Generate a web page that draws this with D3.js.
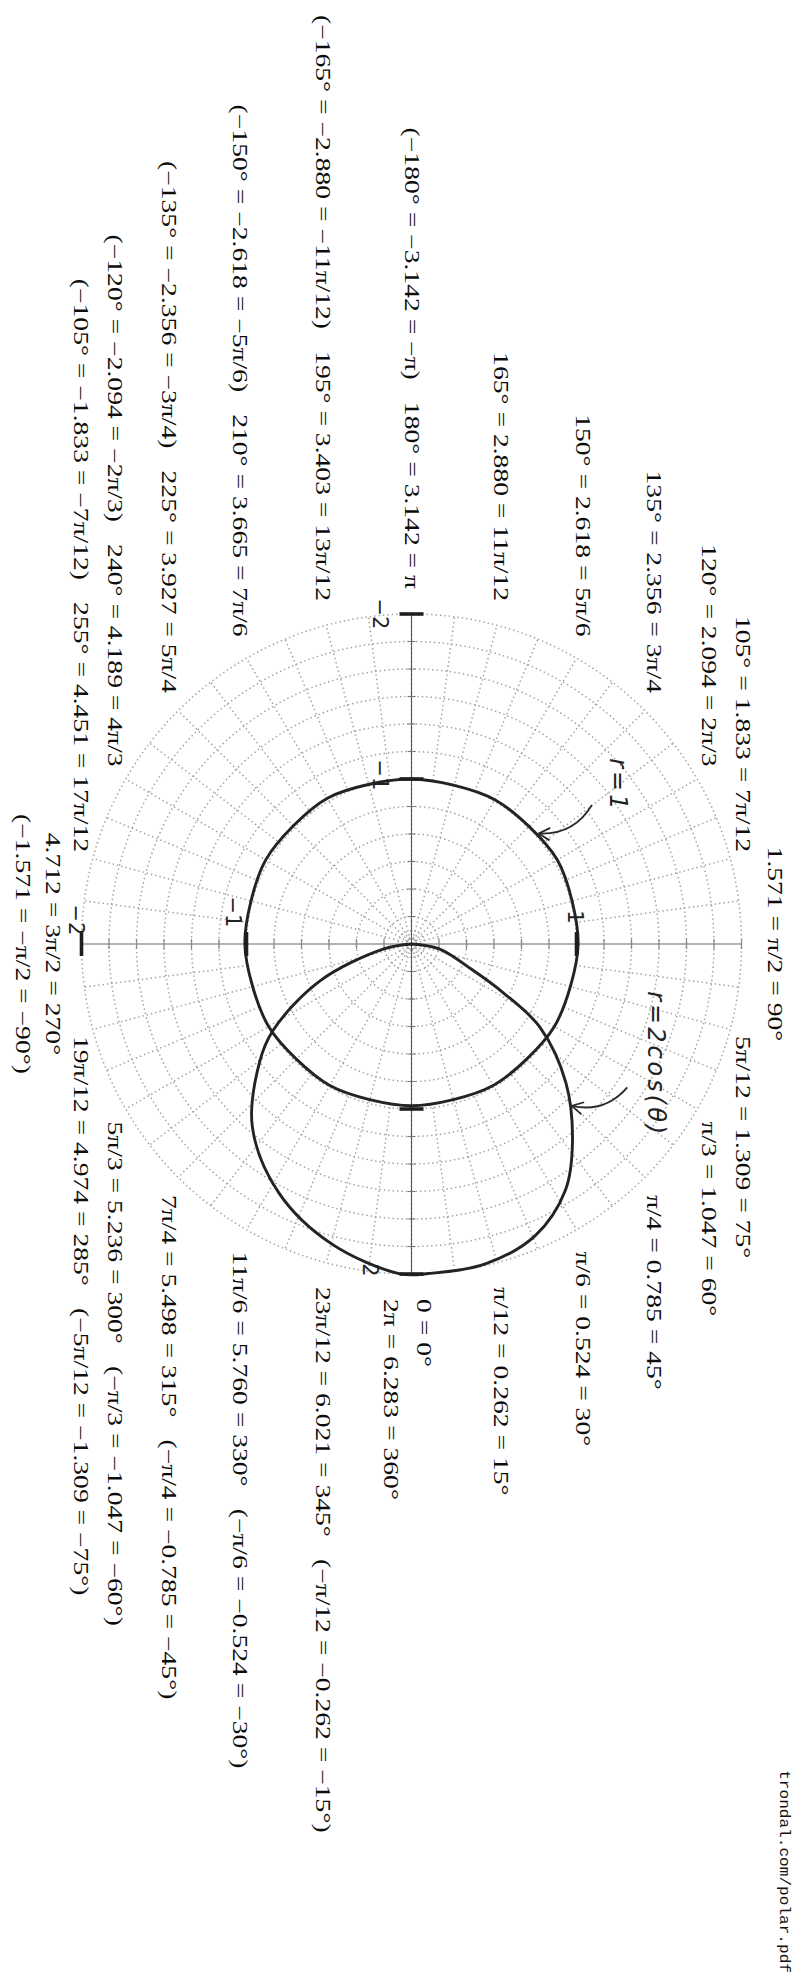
<!DOCTYPE html>
<html>
<head>
<meta charset="utf-8">
<script src="https://cdn.jsdelivr.net/npm/d3@7/dist/d3.min.js"></script>
<style>
  body { margin: 0; background: #fff; }
  .ring, .spoke { fill: none; stroke: #a0a0a0; stroke-width: 1.5; stroke-dasharray: 1.4 3; }
  .pen { fill: none; stroke: #232323; stroke-width: 2.9; stroke-linejoin: round; stroke-linecap: round; }
  .lbl { font-family: "Liberation Serif", serif; font-size: 20px; fill: #0d0d0d; }
  .hand { font-family: "DejaVu Sans", sans-serif; fill: #222; }
  .url { font-family: "Liberation Mono", monospace; font-size: 14px; fill: #111; }
</style>
</head>
<body>
<div id="chart"></div>
<script>
var width = 803, height = 1976;

// the sheet was printed landscape and is shown turned a quarter clockwise,
// so everything is drawn in sheet coordinates inside a rotated group
var centre = {x: 944, y: 391.5};

var ringValues = d3.range(1, 13).map(function(i) { return i / 6; });   // grid circles every 1/6
var spokeAngles = d3.range(0, 360, 15);
var outerSpokeAngles = d3.range(7.5, 360, 15);                          // extra spokes in the outer band

var labelAngles = [0, 15, 30, 45, 60, 75, 90, 105, 120, 135, 150, 165,
                   180, 195, 210, 225, 240, 255, 270, 285, 300, 315, 330, 345];
var labelMain = ["0 = 0°", "π/12 = 0.262 = 15°", "π/6 = 0.524 = 30°", "π/4 = 0.785 = 45°",
  "π/3 = 1.047 = 60°", "5π/12 = 1.309 = 75°", "1.571 = π/2 = 90°", "105° = 1.833 = 7π/12",
  "120° = 2.094 = 2π/3", "135° = 2.356 = 3π/4", "150° = 2.618 = 5π/6", "165° = 2.880 = 11π/12",
  "180° = 3.142 = π", "195° = 3.403 = 13π/12", "210° = 3.665 = 7π/6", "225° = 3.927 = 5π/4",
  "240° = 4.189 = 4π/3", "255° = 4.451 = 17π/12", "4.712 = 3π/2 = 270°", "19π/12 = 4.974 = 285°",
  "5π/3 = 5.236 = 300°", "7π/4 = 5.498 = 315°", "11π/6 = 5.760 = 330°", "23π/12 = 6.021 = 345°"];
var labelAlt = ["2π = 6.283 = 360°", "", "", "", "", "", "", "", "", "", "", "",
  "(−180° = −3.142 = −π)", "(−165° = −2.880 = −11π/12)", "(−150° = −2.618 = −5π/6)",
  "(−135° = −2.356 = −3π/4)", "(−120° = −2.094 = −2π/3)", "(−105° = −1.833 = −7π/12)",
  "(−1.571 = −π/2 = −90°)", "(−5π/12 = −1.309 = −75°)", "(−π/3 = −1.047 = −60°)",
  "(−π/4 = −0.785 = −45°)", "(−π/6 = −0.524 = −30°)", "(−π/12 = −0.262 = −15°)"];

// hand drawn r = 1
var unitTheta = [0, 30, 60, 90, 120, 150, 180, 210, 240, 270, 300, 330];
var unitR     = [0.98, 0.99, 1.0, 1.01, 1.02, 1.01, 1.0, 1.02, 1.02, 1.01, 1.0, 0.99];

// hand drawn r = 2cos(theta), from the pole round and back
var cosTheta = [90, 80, 67, 62, 57, 48, 39, 32, 23, 13, 3, -2, -15, -28, -41, -52, -58, -68, -80, -90];
var cosR     = [0, 0.17, 0.4, 0.63, 0.93, 1.26, 1.55, 1.76, 1.92, 1.99, 2.0, 2.0, 1.88, 1.71, 1.47, 1.17, 0.99, 0.6, 0.17, 0];

// pen marks on the axes and the numbers written by them
var markAngle = [180, 180, 0, 0, 270, 270, 90];
var markR     = [2, 1, 2, 1, 1, 2, 1];
var handText  = ["−2", "−1", "2", "", "−1", "−2", "1"];

var svg = d3.select("#chart").append("svg")
    .attr("width", width)
    .attr("height", height);

var page = svg.append("g")
    .attr("transform", "translate(" + width + ",0) rotate(90)");

var g = page.append("g")
    .attr("transform", "translate(" + centre.x + "," + centre.y + ")");

var r = d3.scaleLinear().domain([0, 2]).range([0, 330]);
var rad = d3.scaleLinear().domain([0, 180]).range([0, Math.PI]);

function px(a, v) { return r(v) * Math.cos(rad(a)); }
function py(a, v) { return -r(v) * Math.sin(rad(a)); }

// grid
g.selectAll(".ring")
    .data(ringValues)
  .join("circle")
    .attr("class", "ring")
    .attr("r", function(d) { return r(d); });

g.selectAll(".ring-inner")
    .data([0.04, 0.08])
  .join("circle")
    .attr("class", "ring")
    .attr("r", function(d) { return r(d); });

g.selectAll(".spoke")
    .data(spokeAngles)
  .join("line")
    .attr("class", "spoke")
    .attr("x1", 0).attr("y1", 0)
    .attr("x2", function(d) { return px(d, 2); })
    .attr("y2", function(d) { return py(d, 2); });

g.selectAll(".spoke-outer")
    .data(outerSpokeAngles)
  .join("line")
    .attr("class", "spoke")
    .attr("x1", function(d) { return px(d, 1); })
    .attr("y1", function(d) { return py(d, 1); })
    .attr("x2", function(d) { return px(d, 2); })
    .attr("y2", function(d) { return py(d, 2); });

// axes
g.append("line")
    .attr("x1", px(180, 2)).attr("x2", px(0, 2))
    .attr("stroke", "#555").attr("stroke-width", 1.1);
g.append("line")
    .attr("y1", py(90, 2)).attr("y2", py(270, 2))
    .attr("stroke", "#b4b4b4").attr("stroke-width", 2);

var tickVals = ringValues.concat(ringValues.map(function(d) { return -d; }));
g.selectAll(".tick-h")
    .data(tickVals)
  .join("line")
    .attr("x1", function(d) { return r(d); }).attr("x2", function(d) { return r(d); })
    .attr("y1", -4).attr("y2", 4)
    .attr("stroke", "#777").attr("stroke-width", 1);
g.selectAll(".tick-v")
    .data(tickVals)
  .join("line")
    .attr("y1", function(d) { return r(d); }).attr("y2", function(d) { return r(d); })
    .attr("x1", -5).attr("x2", 5)
    .attr("stroke", "#888").attr("stroke-width", 1.2);

// printed angle labels
var labelRx = 355, labelRy = 343;
var stacked = {0: [-12, 20.5], 90: [-20.5], 270: [15.5, 45.5]};
var stretch = 1.38;

labelAngles.forEach(function(a, i) {
  var c = Math.cos(rad(a)), s = Math.sin(rad(a));
  var anchor = c > 0.01 ? "start" : (c < -0.01 ? "end" : "middle");
  var x = labelRx * c, y = -labelRy * s;

  if (stacked[a]) {
    var lines = [labelMain[i], labelAlt[i]];
    stacked[a].forEach(function(off, k) {
      g.append("text")
          .attr("class", "lbl")
          .attr("transform", "translate(" + x + "," + (y + off) + ") scale(" + stretch + ",1)")
          .attr("text-anchor", anchor)
          .attr("dominant-baseline", "central")
          .text(lines[k]);
    });
    return;
  }

  var t = g.append("text")
      .attr("class", "lbl")
      .attr("transform", "translate(" + x + "," + y + ") scale(" + stretch + ",1)")
      .attr("text-anchor", anchor)
      .attr("dominant-baseline", "central");

  if (labelAlt[i] === "") {
    t.text(labelMain[i]);
  } else if (anchor === "end") {
    t.append("tspan").text(labelAlt[i]);
    t.append("tspan").attr("dx", 16).text(labelMain[i]);
  } else {
    t.append("tspan").text(labelMain[i]);
    t.append("tspan").attr("dx", 16).text(labelAlt[i]);
  }
});

// pen curves
var unitLine = d3.lineRadial()
    .angle(function(d) { return Math.PI / 2 - rad(d[0]); })
    .radius(function(d) { return r(d[1]); })
    .curve(d3.curveCardinalClosed.tension(0.2));

g.append("path")
    .attr("class", "pen")
    .attr("d", unitLine(d3.zip(unitTheta, unitR)));

g.append("path")
    .attr("class", "pen")
    .attr("d", unitLine.curve(d3.curveCatmullRom)(d3.zip(cosTheta, cosR)));

// pen ticks on the axes
markAngle.forEach(function(a, i) {
  var x = px(a, markR[i]), y = py(a, markR[i]);
  var along = Math.abs(Math.cos(rad(a))) > 0.5;
  g.append("line")
      .attr("x1", along ? x : x - 12).attr("x2", along ? x : x + 12)
      .attr("y1", along ? y - 12 : y).attr("y2", along ? y + 12 : y)
      .attr("stroke", "#1e1e1e").attr("stroke-width", 3.6);
});

var handOffset = [[0, 32], [-4, 32], [-4, 42], [0, 0], [-32, 14], [-24, 6], [-27, 2]];
markAngle.forEach(function(a, i) {
  if (!handText[i]) return;
  g.append("text")
      .attr("class", "hand")
      .attr("x", px(a, markR[i]) + handOffset[i][0])
      .attr("y", py(a, markR[i]) + handOffset[i][1])
      .attr("text-anchor", "middle")
      .attr("dominant-baseline", "central")
      .style("font-size", "21px")
      .text(handText[i]);
});

// notes written on the sheet, with their arrows
var noteText  = ["r=1", "r=2cos(θ)"];
var noteAt    = [[127.5, 1.58], [63.8, 1.65]];
var arrowFrom = [[127.6, 1.38], [56.4, 1.57]];
var arrowTo   = [[131, 1.02], [44.7, 1.38]];

noteText.forEach(function(t, i) {
  g.append("text")
      .attr("class", "hand")
      .attr("x", px(noteAt[i][0], noteAt[i][1]))
      .attr("y", py(noteAt[i][0], noteAt[i][1]))
      .attr("text-anchor", "middle")
      .attr("dominant-baseline", "central")
      .style("font-size", "24px")
      .style("font-style", "italic")
      .style("letter-spacing", "3px")
      .text(t);

  var x0 = px(arrowFrom[i][0], arrowFrom[i][1]), y0 = py(arrowFrom[i][0], arrowFrom[i][1]);
  var x1 = px(arrowTo[i][0], arrowTo[i][1]), y1 = py(arrowTo[i][0], arrowTo[i][1]);
  var qx = (x0 + x1) / 2 + (y1 - y0) * 0.3, qy = (y0 + y1) / 2 - (x1 - x0) * 0.3;
  g.append("path")
      .attr("d", "M" + x0 + "," + y0 + "Q" + qx + "," + qy + " " + x1 + "," + y1)
      .attr("fill", "none").attr("stroke", "#2a2a2a").attr("stroke-width", 1.8);

  var ang = Math.atan2(y1 - qy, x1 - qx);
  [0.5, -0.5].forEach(function(w) {
    g.append("line")
        .attr("x1", x1).attr("y1", y1)
        .attr("x2", x1 - 13 * Math.cos(ang + w)).attr("y2", y1 - 13 * Math.sin(ang + w))
        .attr("stroke", "#2a2a2a").attr("stroke-width", 1.8);
  });
});

page.append("text")
    .attr("class", "url")
    .attr("x", 1973).attr("y", 19)
    .attr("text-anchor", "end")
    .attr("dominant-baseline", "central")
    .attr("transform", "translate(1973,0) scale(1.15,1) translate(-1973,0)")
    .text("trondal.com/polar.pdf");
</script>
</body>
</html>
